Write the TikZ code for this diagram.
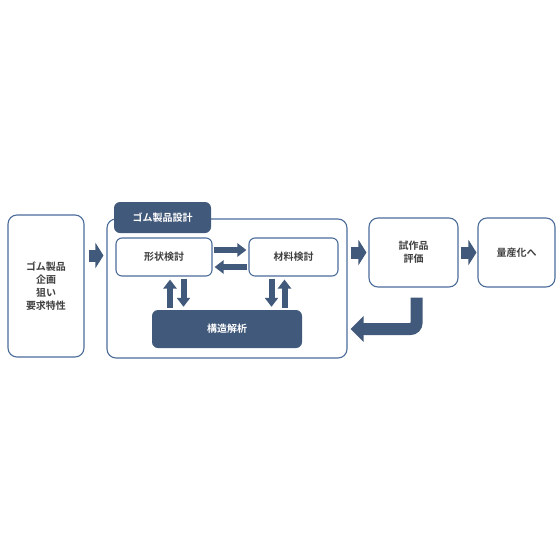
\documentclass[tikz,border=0pt]{standalone}
\usepackage{fontspec}
\setmainfont{Noto Sans CJK JP}[BoldFont={Noto Sans CJK JP Bold}]
\usetikzlibrary{arrows.meta}
\definecolor{navy}{HTML}{41597A}
\definecolor{edge}{HTML}{4C6C9A}
\definecolor{ink}{HTML}{404040}

\begin{document}
\begin{tikzpicture}[x=1pt,y=-1pt,
  box/.style={draw=edge,line width=1.1pt,rounded corners=9pt,fill=white,inner sep=0pt,font=\bfseries\fontsize{10}{13}\selectfont,text=ink,align=center},
  sub/.style={box,rounded corners=6pt},
  dark/.style={fill=navy,rounded corners=6pt,inner sep=0pt,font=\bfseries\fontsize{10}{13}\selectfont,text=white},
  fat/.style={navy,line width=12pt,-{Triangle[length=8pt,width=25pt]}},
  slim/.style={navy,line width=6pt,-{Triangle[length=9pt,width=13pt]},shorten <=2pt,shorten >=3pt}]
\useasboundingbox (0,0) rectangle (560,560);
\node[box,minimum width=76pt,minimum height=142pt] (plan) at (46,286) {ゴム製品\\企画\\狙い\\要求特性};
\node[box,minimum width=240pt,minimum height=139pt] (design) at (227,288.5) {};
\node[dark,minimum width=97pt,minimum height=31pt] (tab) at (162.5,217.5) {ゴム製品設計};
\node[sub,minimum width=96pt,minimum height=38pt] (shape) at (164,257) {形状検討};
\node[sub,minimum width=89pt,minimum height=38pt] (material) at (293.5,257) {材料検討};
\node[dark,minimum width=150pt,minimum height=38pt] (kozo) at (227,329) {構造解析};
\node[box,minimum width=89pt,minimum height=69pt] (proto) at (413.5,252.5) {試作品\\評価};
\node[box,minimum width=77pt,minimum height=69pt] (mass) at (516.5,252.5) {量産化へ};
% main flow
\draw[fat,shorten <=4pt,shorten >=3pt] ([yshift=1.5pt]plan.east |- shape.west) -- ([yshift=1.5pt]design.west |- shape.west);
\draw[fat,shorten <=3pt,shorten >=2pt] (design.east |- proto.west) -- (proto.west);
\draw[fat,shorten <=2pt,shorten >=1pt] (proto.east) -- (mass.west);
\draw[fat,-{Triangle[length=13pt,width=25pt]},rounded corners=6pt,shorten >=3pt] ([xshift=3pt,yshift=-10pt]proto.south) |- (design.east |- kozo.east);
% inside the design box
\draw[slim,shorten <=1pt,shorten >=2pt] ([yshift=7pt]shape.east) -- ([yshift=7pt]material.west);
\draw[slim,shorten <=1pt,shorten >=2pt] ([yshift=-10pt]material.west) -- ([yshift=-10pt]shape.east);
\draw[slim] ([xshift=6pt]shape.south |- kozo.north) -- ([xshift=6pt]shape.south);
\draw[slim] ([xshift=19.5pt]shape.south) -- ([xshift=19.5pt]shape.south |- kozo.north);
\draw[slim] ([xshift=-22pt]material.south) -- ([xshift=-22pt]material.south |- kozo.north);
\draw[slim] ([xshift=-9pt]material.south |- kozo.north) -- ([xshift=-9pt]material.south);
\end{tikzpicture}
\end{document}
